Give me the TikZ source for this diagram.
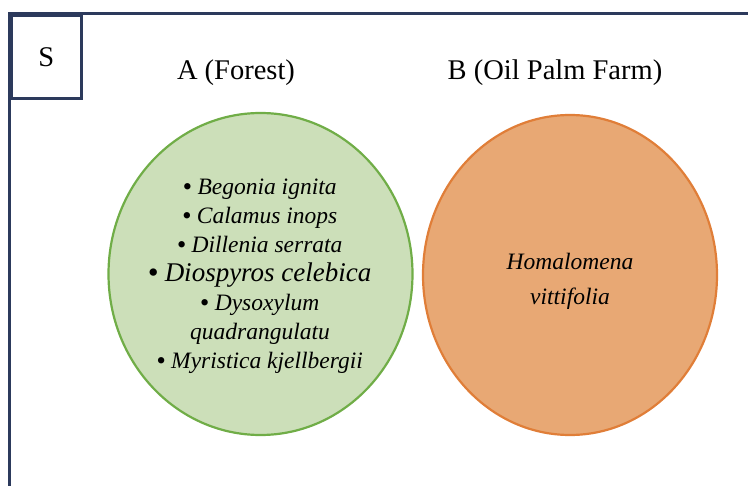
\documentclass[tikz,border=0pt]{standalone}
\usepackage{fontspec}
\setmainfont{Liberation Serif}
\usepackage{tikz}
\usetikzlibrary{shapes.geometric}

\definecolor{framenavy}{RGB}{44,58,92}
\definecolor{forestfill}{RGB}{204,223,185}
\definecolor{forestline}{RGB}{112,173,71}
\definecolor{palmfill}{RGB}{232,168,116}
\definecolor{palmline}{RGB}{224,126,56}

\newcommand{\spbullet}{{\upshape\bfseries\textbullet}\ }

\tikzset{
    setlabel/.style={font=\fontsize{28.5}{32}\selectfont},
    setcircle/.style={ellipse, line width=2.2pt, inner sep=0pt},
    species/.style={align=center, font=\fontsize{23.5}{29}\selectfont\itshape}
}

\begin{document}
\begin{tikzpicture}[x=1pt, y=-1pt]

    \useasboundingbox (0,0) rectangle (748,486);

    % Universal set frame (open at right and bottom)
    \draw[framenavy, line width=3pt] (9.5,486) -- (9.5,14) -- (748,14);
    \node[draw=framenavy, line width=3pt, anchor=north west, minimum width=70.5pt,
          minimum height=83pt, inner sep=0pt, setlabel] (s) at (9.5,14) {S};

    % Set labels
    \node[setlabel] (alabel) at (236,73) {A (Forest)};
    \node[setlabel] (blabel) at (555,73) {B (Oil Palm Farm)};

    % Set A and set B
    \node[setcircle, draw=forestline, fill=forestfill, minimum width=304pt,
          minimum height=322pt] (forest) at (260.5,274) {};
    \node[setcircle, draw=palmline, fill=palmfill, minimum width=294pt,
          minimum height=320pt] (palm) at (570,275) {};

    % Species found only in the forest
    \node[species] (foreststaxa) at (260,276)
        {\spbullet Begonia ignita\\
         \spbullet Calamus inops\\
         \spbullet Dillenia serrata\\
         {\fontsize{27}{29}\selectfont\spbullet Diospyros celebica}\\
         \spbullet Dysoxylum\\
         quadrangulatu\\
         \spbullet Myristica kjellbergii};

    % Species found only in the oil palm farm
    \node[species, font=\fontsize{23.5}{35}\selectfont\itshape] (palmtaxa) at (570,281)
        {Homalomena\\ vittifolia};

\end{tikzpicture}
\end{document}
